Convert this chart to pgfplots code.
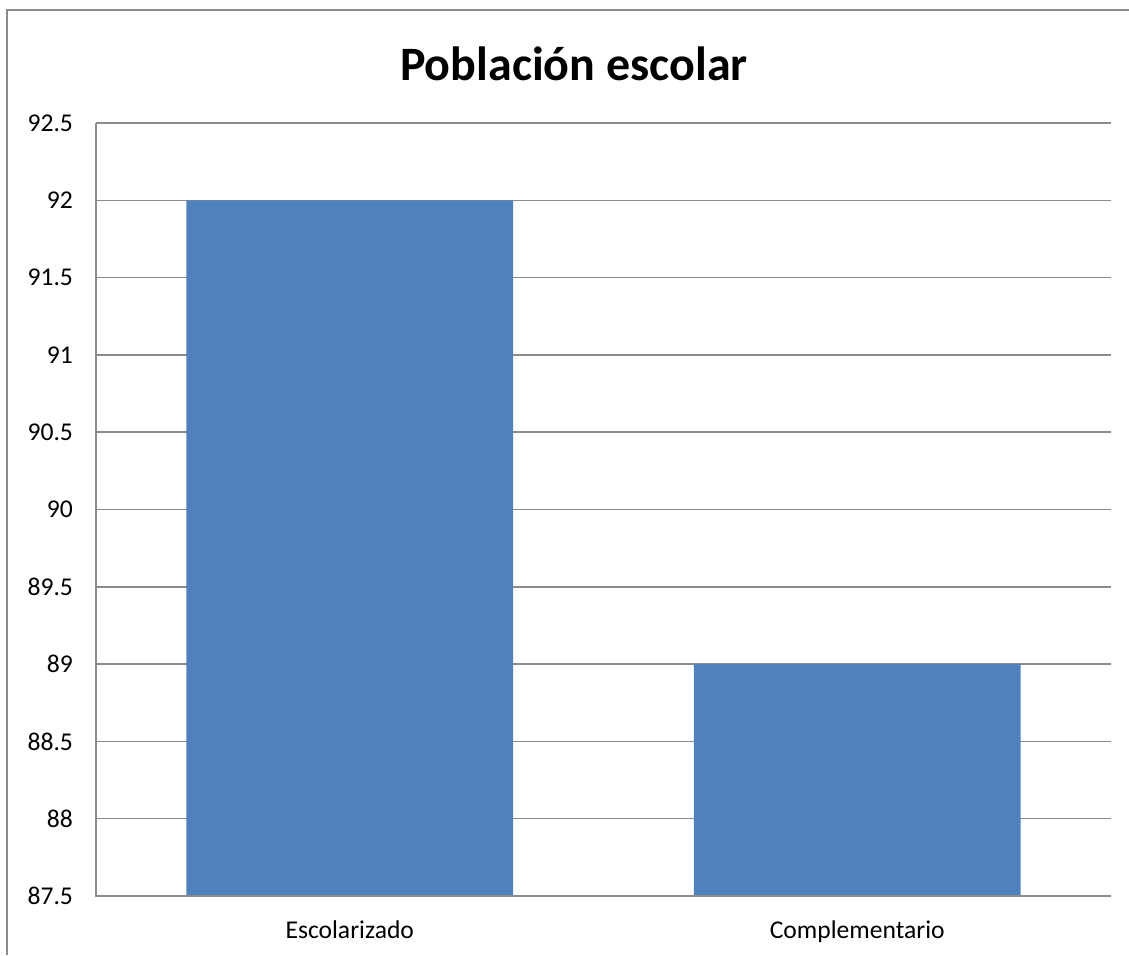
\documentclass[border=0pt]{standalone}
\usepackage{fontspec}
\setmainfont{Carlito}
\usepackage{pgfplots}
\pgfplotsset{compat=1.18}
\definecolor{barblue}{HTML}{4F81BD}
\definecolor{gridgray}{HTML}{8C8C8C}
\definecolor{framegray}{HTML}{8A8A8A}
\begin{document}
\begin{tikzpicture}[x=1pt,y=1pt]
  % page extent and chart frame
  \path[use as bounding box] (0,0) rectangle (564.5,477.5);
  \draw[framegray, line width=0.8pt] (3.5,0) -- (3.5,472.5) -- (564.5,472.5);
  \node[font=\fontsize{24}{28}\selectfont\bfseries] at (287,445.5) {Población escolar};
  \begin{axis}[
    at={(48pt,29.5pt)}, anchor=south west,
    scale only axis, width=507.5pt, height=386.5pt,
    xmin=-0.5, xmax=1.5, ymin=87.5, ymax=92.5,
    enlargelimits=false, clip=false,
    xtick={0,1}, xticklabels={Escolarizado, Complementario},
    ytick={87.5,88,88.5,89,89.5,90,90.5,91,91.5,92,92.5},
    yticklabels={87.5,88,88.5,89,89.5,90,90.5,91,91.5,92,92.5},
    ymajorgrids, grid style={gridgray, line width=0.75pt},
    axis line style={draw=none},
    major tick length=0pt, tick style={draw=none},
    ticklabel style={font=\fontsize{12.8}{15}\selectfont},
    yticklabel style={xshift=-8pt},
    xticklabel style={yshift=-9pt},
    /pgf/number format/assume math mode=true,
    ybar, bar width=0.6437,
  ]
    \addplot[fill=barblue, draw=none] coordinates {(0,92) (1,89)};
  \end{axis}
  % left and bottom axis lines
  \draw[gridgray, line width=0.8pt] (48,416) -- (48,29.5) -- (555.5,29.5);
\end{tikzpicture}
\end{document}
